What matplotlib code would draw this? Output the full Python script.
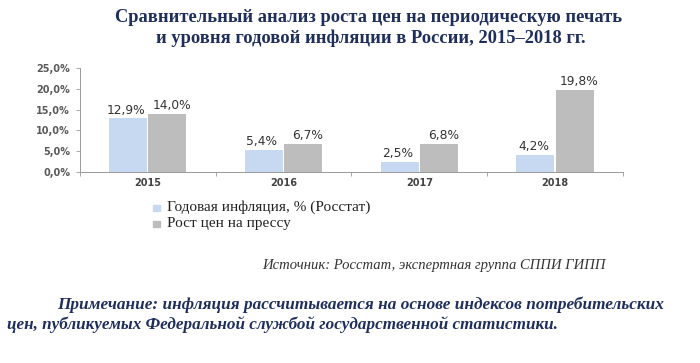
import matplotlib
matplotlib.use("Agg")
import matplotlib.pyplot as plt
import numpy as np

# chart data
years = ["2015", "2016", "2017", "2018"]
inflation = [12.9, 5.4, 2.5, 4.2]
press = [14.0, 6.7, 6.8, 19.8]
series_names = ["Годовая инфляция, % (Росстат)", "Рост цен на прессу"]
yticks = [0, 5, 10, 15, 20, 25]

title1 = "Сравнительный анализ роста цен на периодическую печать"
title2 = "и уровня годовой инфляции в России, 2015–2018 гг."
source = "Источник: Росстат, экспертная группа СППИ ГИПП"
note1 = "Примечание: инфляция рассчитывается на основе индексов потребительских"
note2 = "цен, публикуемых Федеральной службой государственной статистики."

navy = "#1F2F5C"
blue = "#C6D9F1"
gray = "#BDBDBD"

fig = plt.figure(figsize=(7, 3.63), dpi=100)
ax = fig.add_axes([0.114, 0.526, 0.776, 0.287])

x = np.arange(len(years))
w = 0.28
ax.bar(x - w / 2 - 0.005, inflation, w, color=blue)
ax.bar(x + w / 2 + 0.005, press, w, color=gray)

def fmt(v):
    return f"{v:.1f}%".replace(".", ",")

for i in range(len(years)):
    ax.text(x[i] - w / 2 - 0.02, inflation[i] + 0.4, fmt(inflation[i]), ha="center",
            va="bottom", fontsize=8.8, color="#333333", family="DejaVu Sans")
    ax.text(x[i] + w / 2 + 0.04, press[i] + 0.4, fmt(press[i]), ha="center",
            va="bottom", fontsize=8.8, color="#333333", family="DejaVu Sans")

ax.set_xlim(-0.5, len(years) - 0.5)
ax.set_ylim(0, 25)
ax.set_yticks(yticks)
ax.set_yticklabels([fmt(v) for v in yticks], fontsize=7, fontweight="bold",
                   color="#5a5a5a")
ax.set_xticks(x)
ax.set_xticklabels(years, fontsize=7, fontweight="bold", color="#444444")
ax.tick_params(axis="x", length=0, pad=4)
ax.tick_params(axis="y", length=3, width=0.6, color="#999999", pad=4)
ax.set_xticks(np.arange(-0.5, len(years)), minor=True)
ax.tick_params(axis="x", which="minor", length=3, width=0.6, color="#999999")
for s in ["top", "right"]:
    ax.spines[s].set_visible(False)
for s in ["left", "bottom"]:
    ax.spines[s].set_color("#999999")
    ax.spines[s].set_linewidth(0.7)

fig.text(0.527, 0.953, title1, ha="center", va="center", fontsize=13.3,
         fontweight="bold", color=navy, family="Liberation Serif")
fig.text(0.530, 0.895, title2, ha="center", va="center", fontsize=13.3,
         fontweight="bold", color=navy, family="Liberation Serif")

# legend drawn as text with square markers
for k, (name, col) in enumerate(zip(series_names, [blue, gray])):
    yy = 0.428 - k * 0.044
    fig.patches.append(plt.Rectangle((0.218, yy - 0.008), 0.011, 0.016,
                                     transform=fig.transFigure, color=col))
    fig.text(0.238, yy, name, ha="left", va="center", fontsize=11,
             family="Liberation Serif", color="#222222")

fig.text(0.374, 0.268, source, ha="left", va="center", fontsize=10.5,
         style="italic", family="Liberation Serif", color="#333333")

fig.text(0.081, 0.16, note1, ha="left", va="center", fontsize=12.4,
         style="italic", fontweight="bold", family="Liberation Serif", color=navy)
fig.text(0.01, 0.105, note2, ha="left", va="center", fontsize=12.3,
         style="italic", fontweight="bold", family="Liberation Serif", color=navy)

fig.savefig("out.png", dpi=100)
